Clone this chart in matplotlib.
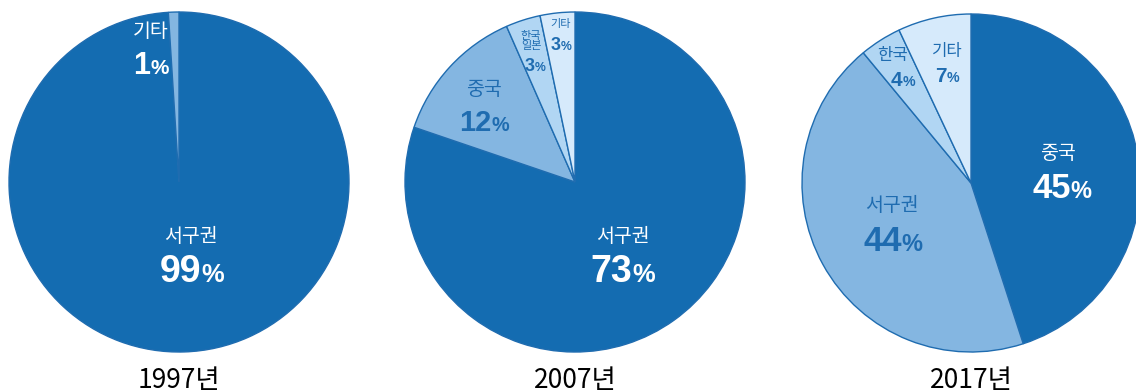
import matplotlib
matplotlib.use("Agg")
import matplotlib.pyplot as plt

plt.rcParams['font.family'] = ['Noto Sans CJK KR', 'DejaVu Sans']

# Data
years = ["1997년", "2007년", "2017년"]
cats_1997 = ["서구권", "기타"]
vals_1997 = [99, 1]
cats_2007 = ["서구권", "중국", "한국\n일본", "기타"]
vals_2007 = [73, 12, 3, 3]
cats_2017 = ["중국", "서구권", "한국", "기타"]
vals_2017 = [45, 44, 4, 7]

DARK = "#146cb1"
MED = "#84b6e1"
LIGHT = "#b1d6f3"
VLIGHT = "#d6eafb"
EDGE = "#1f6cb0"

colors_1997 = [DARK, MED]
colors_2007 = [DARK, MED, LIGHT, VLIGHT]
colors_2017 = [DARK, MED, LIGHT, VLIGHT]

W, H = 1136, 392
fig = plt.figure(figsize=(W / 100, H / 100), dpi=100)
ax = fig.add_axes([0, 0, 1, 1])

pies = [
    (vals_1997, colors_1997, (179, 182), 170),
    (vals_2007, colors_2007, (575, 182), 170),
    (vals_2017, colors_2017, (971, 183), 169),
]
for vals, cols, (cx, cy), r in pies:
    ax.pie(vals, colors=cols, startangle=90, counterclock=False,
           center=(cx, H - cy), radius=r,
           wedgeprops=dict(edgecolor=EDGE, linewidth=1.0))

ax.set_xlim(0, W)
ax.set_ylim(0, H)
ax.set_aspect('equal')
ax.axis('off')

fig.canvas.draw()
renderer = fig.canvas.get_renderer()


def pct_label(x, y, num, size, color):
    """Draw bold number with smaller % sign, centered at pixel (x, y)."""
    t1 = ax.text(0, 0, str(num), fontsize=size, fontweight='bold', color=color,
                 family=['Liberation Sans', 'DejaVu Sans'], ha='left', va='baseline')
    t2 = ax.text(0, 0, "%", fontsize=size * 0.68, fontweight='bold', color=color,
                 family=['Liberation Sans', 'DejaVu Sans'], ha='left', va='baseline')
    w1 = t1.get_window_extent(renderer).width
    w2 = t2.get_window_extent(renderer).width
    total = w1 + w2
    capd = size * 100 / 72 * 0.72
    base = H - y - capd / 2
    x0 = x - total / 2
    t1.set_position((x0, base))
    t2.set_position((x0 + w1, base))


def cat_label(x, y, txt, size, color, ls=1.0):
    ax.text(x, H - y, txt, fontsize=size, color=color, ha='center', va='center',
            linespacing=ls)


WHITE = "white"
# 1997
cat_label(151, 31, cats_1997[1], 14, WHITE)
pct_label(151, 63, vals_1997[1], 22, WHITE)
cat_label(191, 236, cats_1997[0], 14, WHITE)
pct_label(192, 269, vals_1997[0], 27, WHITE)

# 2007
cat_label(623, 236, cats_2007[0], 14, WHITE)
pct_label(623, 269, vals_2007[0], 27, WHITE)
cat_label(484, 89, cats_2007[1], 14, EDGE)
pct_label(484, 120, vals_2007[1], 21, EDGE)
cat_label(531, 41, cats_2007[2], 8, EDGE, ls=1.05)
pct_label(535, 64, vals_2007[2], 13, EDGE)
cat_label(561, 24, cats_2007[3], 8, EDGE)
pct_label(561, 43, vals_2007[3], 13, EDGE)

# 2017
cat_label(1058, 153, cats_2017[0], 14, WHITE)
pct_label(1062, 185, vals_2017[0], 25, WHITE)
cat_label(892, 205, cats_2017[1], 14, EDGE)
pct_label(893, 238, vals_2017[1], 25, EDGE)
cat_label(892, 55, cats_2017[2], 12, EDGE)
pct_label(903, 78, vals_2017[2], 15, EDGE)
cat_label(947, 51, cats_2017[3], 12, EDGE)
pct_label(947, 74, vals_2017[3], 15, EDGE)

# year labels
for (vals, cols, (cx, cy), r), yr in zip(pies, years):
    ax.text(cx, H - 380, yr, fontsize=19, color='black', ha='center', va='center',
            family=['Liberation Sans Narrow', 'Noto Sans CJK KR'])

fig.savefig("out.png", dpi=100)
